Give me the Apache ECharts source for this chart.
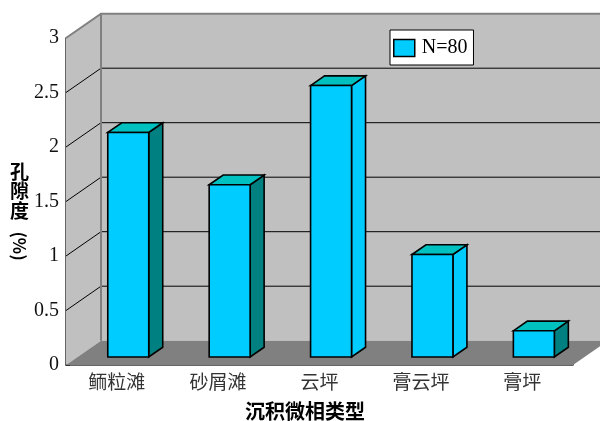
<!DOCTYPE html>
<html>
<head>
<meta charset="utf-8">
<style>
  html, body { margin: 0; padding: 0; background: #ffffff; }
  #chart { width: 600px; height: 421px; }
</style>
<script src="https://cdn.jsdelivr.net/npm/echarts@6/dist/echarts.min.js"></script>
</head>
<body>
<div id="chart"></div>
<script>
// ---- data ----
const categories = ['鲕粒滩', '砂屑滩', '云坪', '膏云坪', '膏坪'];
const porosity = [2.06, 1.58, 2.49, 0.94, 0.24];
const yTicks = [0, 0.5, 1, 1.5, 2, 2.5, 3];
const seriesName = 'N=80';
const xTitle = '沉积微相类型';
const yTitle = '孔\n隙\n度';
const yUnit = '(%)';

// ---- styles (kept out of data) ----
const sideShade = ['#008080', '#008080', '#00CCFF', '#00CCFF', '#008080'];
const DX = 35, DY = -24.3;      // depth of the 3D box
const F1 = 0.33, F2 = 0.73;     // bar front/back depth fractions
const BAR_W = 0.404;            // bar width as a fraction of the band

const chart = echarts.init(document.getElementById('chart'), null, { renderer: 'canvas' });

function frameItem(params, api) {
  const cs = params.coordSys;
  const x0 = cs.x, x1 = cs.x + cs.width;
  const yMax = yTicks[yTicks.length - 1];
  const yb = api.coord([0, 0])[1];
  const yt = api.coord([0, yMax])[1];
  const children = [];
  children.push({ type: 'polygon', shape: { points: [[x0, yb], [x0, yt], [x0 + DX, yt + DY], [x0 + DX, yb + DY]] },
    style: { fill: '#C0C0C0' } });
  children.push({ type: 'polygon', shape: { points: [[x0 + DX, yt + DY], [x1 + DX, yt + DY], [x1 + DX, yb + DY], [x0 + DX, yb + DY]] },
    style: { fill: '#C0C0C0' } });
  children.push({ type: 'polygon', shape: { points: [[x0, yb], [x1, yb], [x1 + DX, yb + DY], [x0 + DX, yb + DY]] },
    style: { fill: '#808080' } });
  yTicks.forEach(function (v) {
    if (v === 0) return;
    const y = api.coord([0, v])[1];
    const top = v === yMax;
    children.push({ type: 'polyline', shape: { points: [[x0, y], [x0 + DX, y + DY], [x1 + DX, y + DY]] },
      style: { fill: null, stroke: top ? '#808080' : '#000000', lineWidth: top ? 2 : 1 } });
  });
  children.push({ type: 'line', shape: { x1: x0 + DX, y1: yt + DY, x2: x0 + DX, y2: yb + DY },
    style: { stroke: '#808080', lineWidth: 2 } });
  return { type: 'group', children: children };
}

function barItem(params, api) {
  const i = api.value(0);
  const v = api.value(1);
  const c0 = api.coord([i, 0]);
  const c1 = api.coord([i, v]);
  const w = api.size([1, 0])[0] * BAR_W;
  const fx = c0[0] - w / 2 + DX * F1;
  const fy0 = c0[1] + DY * F1;
  const fy1 = c1[1] + DY * F1;
  const bx = DX * (F2 - F1), by = DY * (F2 - F1);
  const line = { stroke: '#000000', lineWidth: 1.6, lineJoin: 'miter' };
  return {
    type: 'group',
    children: [
      { type: 'polygon', shape: { points: [[fx + w, fy1], [fx + w + bx, fy1 + by], [fx + w + bx, fy0 + by], [fx + w, fy0]] },
        style: Object.assign({ fill: sideShade[params.dataIndex] }, line) },
      { type: 'polygon', shape: { points: [[fx, fy1], [fx + bx, fy1 + by], [fx + w + bx, fy1 + by], [fx + w, fy1]] },
        style: Object.assign({ fill: '#00C0C0' }, line) },
      { type: 'rect', shape: { x: fx, y: fy1, width: w, height: fy0 - fy1 },
        style: Object.assign({ fill: '#00CCFF' }, line) }
    ]
  };
}

const option = {
  animation: false,
  backgroundColor: '#ffffff',
  grid: { left: 66, right: 27, top: 38, bottom: 56 },
  legend: {
    data: [{ name: seriesName, icon: 'rect',
      itemStyle: { color: '#00CCFF', borderColor: '#000000', borderWidth: 1.5 } }],
    left: 390, top: 30,
    padding: [8, 6, 7, 3],
    itemWidth: 21, itemHeight: 17, itemGap: 8,
    backgroundColor: '#ffffff', borderColor: '#000000', borderWidth: 1, borderRadius: 0,
    selectedMode: false,
    textStyle: { fontFamily: 'Liberation Serif', fontSize: 20, color: '#000000', padding: [0, 0, 0, 2] }
  },
  xAxis: {
    type: 'category',
    data: categories,
    boundaryGap: true,
    axisLine: { show: true, lineStyle: { color: '#333333', width: 1.5 } },
    axisTick: { show: true, inside: true, length: 4, lineStyle: { color: '#333333' } },
    axisLabel: { margin: 7, fontFamily: 'Noto Sans CJK SC', fontSize: 19, color: '#333333' },
    splitLine: { show: false }
  },
  yAxis: {
    type: 'value',
    min: 0, max: 3, interval: 0.5,
    axisLine: { show: true, lineStyle: { color: '#333333', width: 1.5 } },
    axisTick: { show: true, inside: true, length: 4, lineStyle: { color: '#333333' } },
    axisLabel: { margin: 7, fontFamily: 'Liberation Serif', fontSize: 20, color: '#111111',
      padding: [8, 0, 0, 0],
      formatter: function (v) { return String(v); } },
    splitLine: { show: false }
  },
  graphic: [
    { type: 'text', left: 10, top: 162,
      style: { text: yTitle, fontFamily: 'Noto Sans CJK SC', fontWeight: 'bold', fontSize: 19, lineHeight: 19.5, fill: '#000000' } },
    { type: 'text', x: 19, y: 246, rotation: -Math.PI / 2,
      style: { text: yUnit, fontFamily: 'Noto Sans CJK SC', fontWeight: 'bold', fontSize: 17, fill: '#000000',
        align: 'center', verticalAlign: 'middle' } },
    { type: 'text', x: 305, y: 411,
      style: { text: xTitle, fontFamily: 'Noto Sans CJK SC', fontWeight: 'bold', fontSize: 20, fill: '#000000',
        align: 'center', verticalAlign: 'middle' } }
  ],
  series: [
    {
      name: 'frame', type: 'custom', silent: true, z: 1, clip: false,
      renderItem: frameItem,
      data: [[0, 0]]
    },
    {
      name: seriesName, type: 'custom', z: 3, clip: false,
      itemStyle: { color: '#00CCFF' },
      renderItem: barItem,
      encode: { x: 0, y: 1 },
      data: porosity.map(function (v, i) { return [i, v]; })
    }
  ]
};
chart.setOption(option);
</script>
</body>
</html>
